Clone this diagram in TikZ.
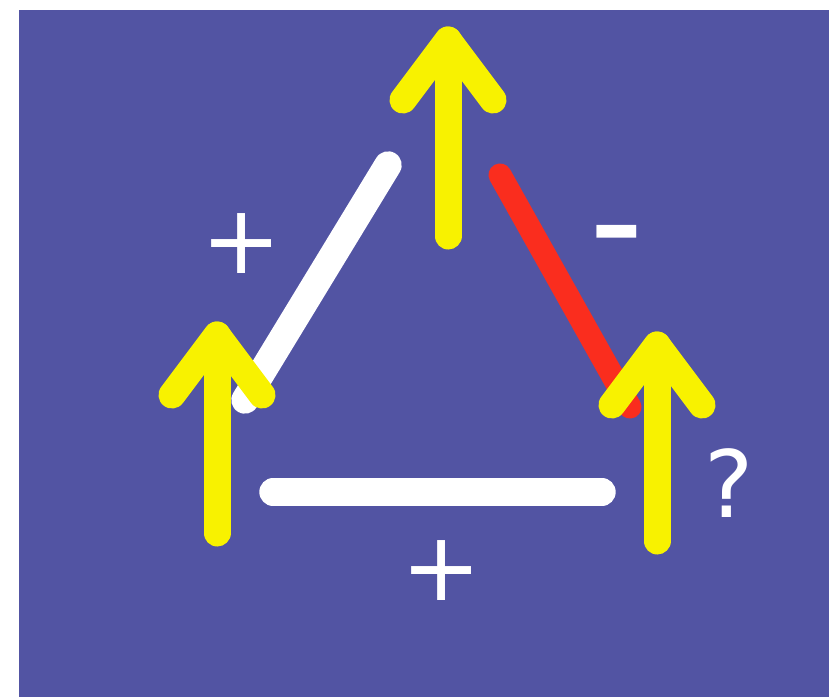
\documentclass[tikz,border=0pt]{standalone}
\usepackage{fontspec}
\setmainfont{DejaVu Sans}
\definecolor{fondo}{RGB}{82,84,163}
\definecolor{spinyellow}{RGB}{248,242,0}
\definecolor{bondred}{RGB}{250,45,30}

\begin{document}
\begin{tikzpicture}[
					x=0.025cm, y=-0.025cm,
					spin/.style={draw=spinyellow, line width=19.2pt, line cap=round, line join=round},
					bond/.style={draw=white, line width=19.5pt, line cap=round},
					badbond/.style={draw=bondred, line width=16.4pt, line cap=round},
					sign/.style={text=white, inner sep=0pt, anchor=base, font=\fontsize{68}{70}\selectfont}
				]
				% Parámetros de la punta de flecha
				\def\hx{45}      % abertura horizontal
				\def\hy{60}      % caída vertical

				\useasboundingbox (0,0) rectangle (831,697);

				% --- Fondo ---
				\fill[fondo] (19,10) rectangle (829,697);

				% --- Extremos de los espines ---
				\coordinate (s1base) at (217,533); \coordinate (s1tip) at (217,335);
				\coordinate (s2base) at (448,236); \coordinate (s2tip) at (448,40);
				\coordinate (s3base) at (657,541); \coordinate (s3tip) at (657,345);

				% --- Extremos de los enlaces ---
				\coordinate (b12a) at (245,400); \coordinate (b12b) at (388,165);
				\coordinate (b23a) at (500,175); \coordinate (b23b) at (630,407);
				\coordinate (b13a) at (273,492); \coordinate (b13b) at (602,492);

				% --- Enlaces ---
				\draw[bond] (b12a) -- (b12b);
				\draw[badbond] (b23a) -- (b23b);
				\draw[bond] (b13a) -- (b13b);

				% --- Espines ---
				\draw[spin] (s1base) -- (s1tip);
				\draw[spin] (s1tip) ++(-\hx,\hy) -- (s1tip) -- ++(\hx,\hy);
				\draw[spin] (s2base) -- (s2tip);
				\draw[spin] (s2tip) ++(-\hx,\hy) -- (s2tip) -- ++(\hx,\hy);
				\draw[spin] (s3base) -- (s3tip);
				\draw[spin] (s3tip) ++(-\hx,\hy) -- (s3tip) -- ++(\hx,\hy);

				% --- Signos ---
				\node[sign] (j12) at (242,273) {+};
				\node[sign] (j13) at (442,600) {+};
				\node[sign, font=\fontsize{72}{74}\selectfont\bfseries] (j23) at (617,259) {–};
				\node[sign, font=\fontsize{66}{68}\selectfont] (q3) at (729,517) {?};

			\end{tikzpicture}
\end{document}
